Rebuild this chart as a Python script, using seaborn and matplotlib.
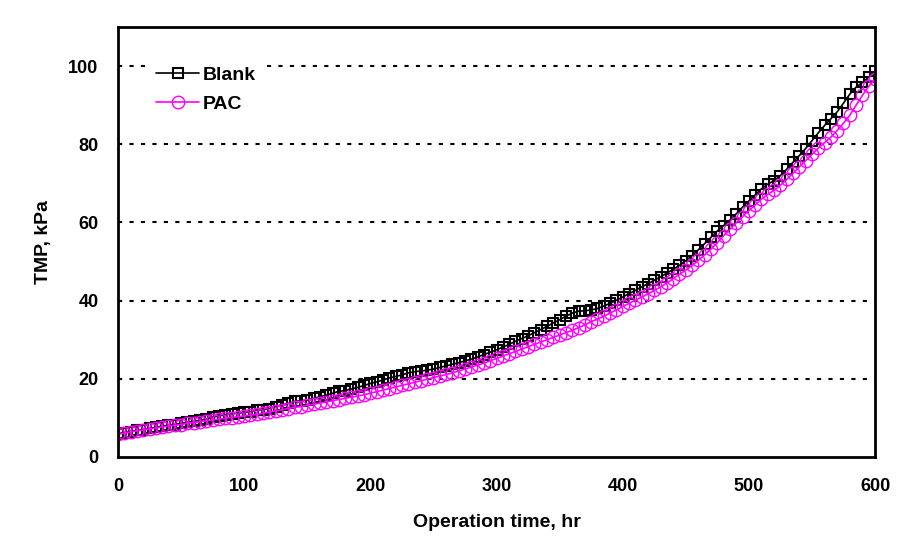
import matplotlib
matplotlib.use("Agg")
import matplotlib.pyplot as plt
import seaborn as sns
import pandas as pd

# Operation time (hr), sampled every 5 hr
time_hr = list(range(0, 601, 5))

blank_tmp = [
    6.0, 6.2, 6.5, 6.8, 7.0, 7.3, 7.6, 7.9, 8.1, 8.3,
    8.6, 8.9, 9.1, 9.4, 9.7, 10.2, 10.5, 10.8, 11.0, 11.2,
    11.4, 11.6, 12.0, 12.1, 12.4, 12.9, 13.3, 13.7, 14.2, 14.4,
    14.6, 15.0, 15.4, 15.8, 16.3, 16.8, 17.0, 17.4, 17.8, 18.3,
    18.8, 19.2, 19.7, 20.2, 20.6, 21.0, 21.5, 21.8, 22.0, 22.2,
    22.5, 22.9, 23.3, 23.7, 24.1, 24.6, 25.0, 25.6, 26.2, 26.8,
    27.4, 28.1, 28.8, 29.6, 30.3, 31.0, 31.8, 32.6, 33.4, 34.3,
    35.1, 36.0, 36.8, 37.3, 37.4, 37.6, 38.0, 38.6, 39.3, 40.1,
    40.9, 41.8, 42.6, 43.5, 44.3, 45.2, 46.1, 47.0, 48.0, 49.0,
    50.2, 51.5, 53.0, 54.6, 56.2, 57.8, 59.2, 60.6, 62.2, 63.9,
    65.5, 67.0, 68.6, 69.8, 70.7, 72.0, 73.6, 75.4, 77.1, 78.9,
    80.9, 82.9, 84.8, 86.5, 88.3, 90.5, 92.8, 94.6, 95.8, 97.2,
    98.8,
]

pac_tmp = [
    5.8, 6.1, 6.4, 6.7, 6.9, 7.2, 7.4, 7.7, 7.9, 8.1,
    8.3, 8.6, 8.8, 9.0, 9.3, 9.5, 9.7, 9.9, 10.1, 10.3,
    10.5, 10.7, 10.9, 11.2, 11.5, 11.8, 12.1, 12.4, 12.7, 12.9,
    13.2, 13.5, 13.8, 14.1, 14.4, 14.7, 15.0, 15.3, 15.6, 15.9,
    16.3, 16.7, 17.1, 17.5, 17.9, 18.3, 18.7, 19.1, 19.5, 19.9,
    20.3, 20.7, 21.1, 21.5, 22.0, 22.5, 23.0, 23.5, 24.0, 24.6,
    25.2, 25.8, 26.4, 27.0, 27.6, 28.2, 28.8, 29.4, 30.0, 30.6,
    31.2, 31.8, 32.4, 33.1, 33.8, 34.6, 35.3, 36.0, 36.8, 37.6,
    38.5, 39.3, 40.1, 40.9, 41.7, 42.6, 43.5, 44.5, 45.6, 46.7,
    47.8, 49.0, 50.3, 51.7, 53.2, 54.8, 56.6, 58.2, 59.9, 61.5,
    63.0, 64.5, 66.0, 67.2, 68.2, 69.5, 71.0, 72.6, 74.2, 75.8,
    77.4, 79.0, 80.4, 81.8, 83.5, 85.4, 87.4, 90.0, 92.5, 94.8,
    96.7,
]

df = pd.DataFrame({"time": time_hr, "Blank": blank_tmp, "PAC": pac_tmp})

sns.set_style("white")
plt.rcParams["font.family"] = ["Liberation Sans", "DejaVu Sans"]
plt.rcParams["font.weight"] = "bold"
plt.rcParams["text.color"] = "black"
plt.rcParams["axes.labelcolor"] = "black"

fig = plt.figure(figsize=(9.03, 5.45), dpi=100)
ax = fig.add_axes([0.1307, 0.1615, 0.8383, 0.789])

sns.lineplot(data=df, x="time", y="Blank", ax=ax, color="black", lw=1.2,
             marker="s", markersize=7, markerfacecolor="none",
             markeredgecolor="black", markeredgewidth=1.5, label="Blank")
sns.lineplot(data=df, x="time", y="PAC", ax=ax, color="#ff00ff", lw=1.2,
             marker="o", markersize=9, markerfacecolor="none",
             markeredgecolor="#ff00ff", markeredgewidth=1.0, label="PAC")

ax.set_xlim(0, 600)
ax.set_ylim(0, 110)
ax.set_xticks(range(0, 601, 100))
ax.set_yticks(range(0, 101, 20))
for yv in range(20, 101, 20):
    ax.axhline(yv, color="black", lw=1.5, ls=(0, (2, 3.5)), zorder=0)

for s in ax.spines.values():
    s.set_color("black")
    s.set_linewidth(2)
ax.tick_params(direction="in", length=6, width=1.5, labelsize=13,
               colors="black", labelcolor="black")
ax.tick_params(axis="x", pad=15)
ax.tick_params(axis="y", pad=14)
for lab in ax.get_xticklabels() + ax.get_yticklabels():
    lab.set_fontweight("bold")

ax.set_xlabel("Operation time, hr", fontsize=14, fontweight="bold", labelpad=14)
ax.set_ylabel("TMP, kPa", fontsize=14, fontweight="bold", labelpad=12)

leg = ax.legend(loc="upper left", bbox_to_anchor=(0.03, 0.945), frameon=True,
                fancybox=False, edgecolor="white", framealpha=1,
                prop={"size": 14, "weight": "bold"}, handlelength=2.2,
                handletextpad=0.2, borderpad=0.3, labelspacing=0.6)

fig.savefig("out.png", dpi=100)
